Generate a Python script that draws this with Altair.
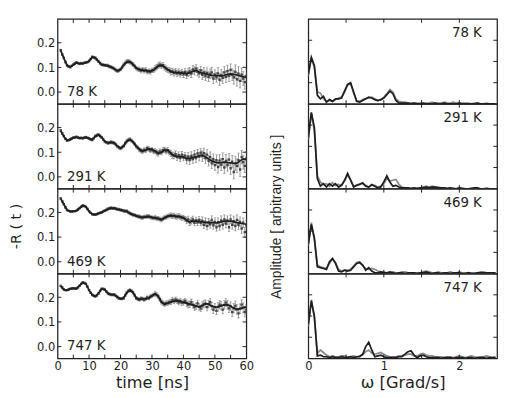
import altair as alt
import pandas as pd

TEMPS = ["78 K", "291 K", "469 K", "747 K"]

# ---- left column: -R(t), values in units of 0.001 ----
FIT_T = list(range(1, 61))
FIT_78 = [168, 137, 109, 102, 110, 119, 115, 116, 119, 125,
          141, 139, 125, 111, 109, 106, 102, 94, 86, 91,
          109, 122, 123, 112, 98, 91, 89, 88, 84, 86,
          94, 105, 109, 102, 91, 84, 80, 78, 78, 77,
          75, 78, 84, 88, 81, 77, 74, 70, 68, 67,
          67, 65, 68, 72, 74, 72, 69, 65, 62, 59]
FIT_291 = [186, 164, 148, 151, 158, 161, 158, 157, 160, 156,
           151, 164, 170, 161, 144, 138, 140, 138, 125, 116,
           125, 144, 151, 142, 125, 112, 105, 108, 114, 112,
           105, 96, 99, 109, 109, 96, 86, 83, 82, 81,
           75, 75, 79, 81, 86, 88, 82, 73, 65, 60,
           57, 58, 60, 58, 57, 55, 56, 65, 73, 70]
FIT_469 = [256, 233, 210, 204, 204, 207, 217, 227, 224, 204,
           193, 191, 196, 200, 207, 214, 217, 217, 213, 210,
           207, 204, 196, 191, 186, 182, 180, 182, 183, 180,
           178, 175, 171, 178, 184, 187, 186, 183, 183, 178,
           167, 162, 165, 165, 163, 162, 159, 159, 159, 158,
           159, 162, 165, 165, 165, 162, 159, 157, 154, 152]
FIT_747 = [244, 231, 229, 234, 236, 235, 247, 260, 254, 229,
           210, 204, 216, 234, 231, 216, 211, 211, 201, 194,
           197, 219, 229, 219, 197, 191, 194, 194, 196, 206,
           214, 204, 181, 172, 176, 181, 185, 186, 184, 179,
           176, 172, 169, 164, 161, 166, 174, 172, 164, 160,
           161, 166, 169, 169, 164, 156, 151, 154, 158, 161]

# measured points at t = 1.0, 1.5, ... 60.0 ns (rows of 5 ns)
DATA_T = [1.0 + 0.5 * i for i in range(119)]
DATA_78 = [170, 152, 138, 121, 108, 103, 101, 106, 111, 116,
           120, 117, 114, 117, 115, 118, 120, 121, 126, 134,
           142, 141, 138, 131, 124, 117, 111, 110, 108, 108,
           107, 103, 101, 98, 95, 89, 85, 88, 92, 100,
           110, 117, 123, 124, 121, 117, 111, 104, 97, 93,
           92, 87, 91, 86, 90, 83, 85, 82, 88, 89,
           96, 101, 107, 111, 106, 109, 100, 95, 90, 88,
           82, 84, 78, 83, 76, 81, 74, 80, 72, 82,
           70, 79, 84, 75, 92, 86, 95, 82, 76, 88,
           70, 80, 66, 78, 62, 74, 80, 55, 70, 60,
           76, 50, 68, 58, 80, 62, 85, 66, 90, 70,
           60, 82, 52, 75, 45, 70, 55, 40, 65]
DATA_291 = [188, 176, 165, 154, 147, 149, 152, 156, 159, 160,
            162, 159, 157, 158, 156, 159, 161, 158, 155, 152,
            150, 157, 165, 169, 171, 166, 160, 152, 143, 140,
            137, 139, 141, 139, 137, 131, 124, 119, 116, 120,
            126, 137, 145, 150, 152, 147, 141, 133, 124, 118,
            111, 106, 104, 109, 108, 116, 113, 108, 111, 104,
            104, 99, 95, 103, 100, 108, 110, 104, 108, 100,
            95, 88, 86, 92, 80, 88, 76, 90, 78, 86,
            70, 82, 68, 85, 72, 90, 76, 95, 82, 98,
            84, 96, 76, 90, 65, 80, 55, 72, 48, 68,
            40, 66, 50, 72, 38, 65, 48, 70, 35, 62,
            20, 55, 45, 68, 30, 80, 60, 45, 75]
DATA_469 = [257, 245, 233, 220, 210, 206, 204, 203, 205, 205,
            207, 212, 218, 223, 228, 226, 222, 214, 205, 198,
            193, 191, 191, 193, 196, 198, 200, 204, 207, 210,
            214, 216, 218, 216, 217, 215, 213, 212, 210, 208,
            206, 205, 205, 200, 196, 193, 190, 189, 186, 184,
            183, 180, 179, 182, 182, 184, 184, 181, 179, 177,
            179, 176, 176, 173, 170, 174, 179, 181, 185, 186,
            188, 185, 187, 183, 183, 185, 181, 178, 179, 174,
            168, 172, 160, 166, 172, 158, 168, 160, 170, 158,
            166, 150, 162, 145, 160, 152, 170, 148, 162, 140,
            160, 145, 168, 150, 172, 155, 168, 140, 172, 150,
            165, 145, 170, 150, 162, 135, 158, 120, 148]
DATA_747 = [246, 240, 232, 229, 229, 231, 234, 236, 237, 236,
            235, 240, 247, 254, 260, 258, 254, 243, 229, 218,
            210, 206, 204, 208, 216, 226, 234, 234, 231, 223,
            216, 213, 211, 210, 211, 206, 201, 196, 194, 194,
            197, 208, 219, 226, 229, 225, 219, 208, 197, 193,
            191, 195, 194, 190, 194, 199, 196, 203, 206, 210,
            214, 210, 204, 192, 181, 176, 172, 176, 176, 180,
            181, 188, 185, 190, 186, 180, 184, 178, 179, 185,
            176, 170, 172, 180, 169, 160, 164, 175, 161, 155,
            166, 172, 174, 160, 172, 180, 164, 150, 160, 145,
            161, 170, 166, 150, 169, 178, 169, 155, 164, 140,
            156, 165, 151, 135, 154, 170, 158, 140, 150]
# error half-widths per 5-ns block
ERR_78 = [4, 4, 5, 6, 8, 9, 11, 13, 16, 20, 24, 28]
ERR_291 = [4, 4, 5, 6, 7, 9, 11, 13, 17, 21, 25, 28]
ERR_469 = [3, 3, 4, 5, 6, 7, 8, 10, 13, 16, 18, 20]
ERR_747 = [3, 3, 4, 5, 6, 7, 9, 11, 13, 15, 17, 19]

# ---- right column: Fourier amplitude (fraction of panel height, x100) ----
OMEGA = [round(0.04 * i, 2) for i in range(63)]
DARK_78 = [35, 55, 45, 10, 6, 9, 2, 5, 3, 6,
           6, 7, 15, 23, 25, 14, 3, 2, 4, 6,
           8, 7, 5, 4, 5, 7, 11, 15, 12, 4,
           1, 1, 1, 1, 0, 1, 0, 0, 1, 0,
           0, 0, 1, 0, 0, 1, 0, 0, 0, 0,
           1, 0, 0, 0, 0, 0, 1, 0, 0, 0,
           0, 0, 0]
GREY_78 = [33, 54, 43, 14, 13, 6, 3, 4, 3, 5,
           7, 8, 14, 22, 24, 13, 4, 3, 5, 6,
           7, 8, 6, 4, 5, 8, 12, 17, 14, 6,
           3, 2, 2, 1, 1, 1, 1, 1, 0, 1,
           1, 2, 1, 1, 1, 2, 1, 1, 2, 1,
           1, 1, 1, 1, 0, 1, 1, 0, 0, 1,
           0, 0, 0]
DARK_291 = [60, 90, 72, 12, 3, 6, 2, 6, 3, 6,
            2, 4, 10, 18, 10, 2, 4, 5, 7, 3,
            2, 5, 3, 1, 2, 8, 15, 8, 3, 4,
            2, 1, 1, 1, 0, 1, 0, 1, 1, 2,
            1, 2, 2, 1, 1, 1, 0, 1, 0, 0,
            1, 0, 0, 0, 0, 1, 1, 0, 0, 0,
            0, 0, 0]
GREY_291 = [58, 89, 68, 15, 8, 5, 6, 3, 7, 4,
            5, 4, 9, 16, 11, 3, 4, 6, 6, 4,
            2, 4, 4, 2, 3, 6, 12, 9, 10, 11,
            5, 2, 1, 1, 1, 1, 1, 1, 2, 3,
            2, 3, 2, 2, 1, 1, 1, 1, 1, 0,
            1, 1, 0, 0, 1, 1, 0, 0, 0, 1,
            0, 0, 0]
DARK_469 = [35, 58, 42, 8, 7, 6, 5, 14, 18, 12,
            3, 2, 4, 3, 4, 8, 12, 13, 10, 4,
            7, 3, 1, 1, 2, 1, 1, 2, 1, 0,
            1, 1, 0, 1, 1, 1, 0, 1, 1, 2,
            1, 0, 1, 1, 0, 1, 1, 0, 1, 1,
            1, 0, 0, 1, 0, 0, 1, 1, 1, 1,
            1, 1, 1]
GREY_469 = [33, 60, 40, 10, 8, 7, 6, 12, 17, 13,
            5, 3, 4, 4, 5, 9, 13, 14, 9, 6,
            5, 6, 5, 3, 2, 2, 1, 1, 2, 1,
            1, 2, 2, 1, 1, 1, 1, 1, 2, 3,
            2, 1, 1, 2, 1, 1, 1, 2, 1, 1,
            2, 1, 1, 1, 1, 1, 1, 2, 2, 1,
            1, 1, 1]
DARK_747 = [40, 68, 50, 3, 4, 2, 2, 1, 2, 1,
            1, 2, 1, 1, 2, 1, 2, 2, 5, 14,
            19, 10, 2, 3, 4, 2, 1, 1, 1, 1,
            2, 2, 5, 8, 9, 4, 1, 3, 4, 2,
            1, 1, 1, 1, 0, 1, 1, 1, 0, 1,
            1, 1, 0, 1, 1, 0, 1, 1, 1, 0,
            1, 1, 1]
GREY_747 = [38, 69, 48, 6, 10, 7, 4, 2, 3, 2,
            2, 3, 3, 2, 2, 3, 2, 3, 4, 8,
            10, 6, 5, 6, 7, 5, 3, 2, 2, 2,
            3, 3, 4, 5, 5, 3, 3, 5, 6, 4,
            3, 3, 2, 2, 2, 1, 2, 2, 1, 2,
            3, 2, 1, 2, 3, 2, 1, 2, 2, 3,
            2, 1, 2]

FITS = [FIT_78, FIT_291, FIT_469, FIT_747]
DATAS = [DATA_78, DATA_291, DATA_469, DATA_747]
ERRS = [ERR_78, ERR_291, ERR_469, ERR_747]
DARKS = [DARK_78, DARK_291, DARK_469, DARK_747]
GREYS = [GREY_78, GREY_291, GREY_469, GREY_747]
for lst in DATAS:
    assert len(lst) == len(DATA_T)
for lst in DARKS + GREYS:
    assert len(lst) == len(OMEGA)

TIME_LABELS = [0, 10, 20, 30, 40, 50, 60]
TIME_TICKS = [5, 10, 15, 20, 25, 30, 35, 40, 45, 50, 55]
R_LABELS = [0.0, 0.1, 0.2]
OMEGA_LABELS = [0, 1, 2]
OMEGA_TICKS = [0.5, 1.0, 1.5, 2.0]
AMP_TICKS = [0.25, 0.5, 0.75]

FONT = "DejaVu Sans"
ARIAL = "Liberation Sans"
INK = "#1e1e1e"
W, H = 198, 89
T_DOMAIN = [0, 60]
R_DOMAIN = [-0.048, 0.296]
W_DOMAIN = [0, 2.5]
A_DOMAIN = [0, 1]


def frame_ticks(xvals, yvals, xenc, yenc, tl=4):
    """Inward ticks on all four frame sides; xenc/yenc build the shared encodings."""
    xd = pd.DataFrame({"x": xvals})
    yd = pd.DataFrame({"y": yvals})
    bx = alt.Chart(xd).mark_rule(color=INK, strokeWidth=1)
    by = alt.Chart(yd).mark_rule(color=INK, strokeWidth=1)
    X = xenc("x")
    Y = yenc("y")
    return [
        bx.encode(x=X, y=alt.value(0), y2=alt.value(tl)),
        bx.encode(x=X, y=alt.value(H), y2=alt.value(H - tl)),
        by.encode(y=Y, x=alt.value(0), x2=alt.value(tl)),
        by.encode(y=Y, x=alt.value(W), x2=alt.value(W - tl)),
    ]


def left_panel(k):
    xs = alt.Scale(domain=T_DOMAIN, nice=False, zero=False)
    ys = alt.Scale(domain=R_DOMAIN, nice=False, zero=False)
    vals = [v / 1000 for v in DATAS[k]]
    errs = [ERRS[k][i // 10] / 1000 for i in range(len(vals))]
    pts = pd.DataFrame({
        "t": DATA_T, "v": vals,
        "lo": [a - e for a, e in zip(vals, errs)],
        "hi": [a + e for a, e in zip(vals, errs)],
    })
    fit = pd.DataFrame({"t": FIT_T, "v": [v / 1000 for v in FITS[k]]})

    if k == 3:
        xax = alt.Axis(values=TIME_LABELS, format="d", ticks=False, domain=False,
                       labelFlush=False, labelPadding=3, title="time [ns]",
                       titleFontSize=17, titleFontWeight="normal", titlePadding=3)
    else:
        xax = None
    ykw = dict(values=R_LABELS, format=".1f", ticks=False, domain=False,
               labelPadding=3, titleFontWeight="normal")
    if k == 2:
        ykw.update(title="-R ( t )", titleFontSize=15, titleY=39, titleAlign="center",
                   titlePadding=14)
    else:
        ykw.update(title="")
    yax = alt.Axis(**ykw)

    def xenc(f):
        return alt.X(f"{f}:Q", scale=xs, axis=xax)

    def yenc(f):
        return alt.Y(f"{f}:Q", scale=ys, axis=yax)

    points = alt.Chart(pts).mark_square(size=6, color="#454545", opacity=1, clip=True).encode(
        x=xenc("t"), y=yenc("v"))
    bars = alt.Chart(pts).mark_rule(color="#7a7a7a", strokeWidth=0.8, clip=True).encode(
        x=xenc("t"), y=yenc("lo"), y2="hi:Q")
    cap_lo = alt.Chart(pts).mark_tick(color="#7a7a7a", orient="horizontal", size=2.5,
                                      thickness=0.8, clip=True).encode(x=xenc("t"), y=yenc("lo"))
    cap_hi = alt.Chart(pts).mark_tick(color="#7a7a7a", orient="horizontal", size=2.5,
                                      thickness=0.8, clip=True).encode(x=xenc("t"), y=yenc("hi"))
    line = alt.Chart(fit).mark_line(color=INK, strokeWidth=1.8, clip=True).encode(
        x=xenc("t"), y=yenc("v"))
    lab = alt.Chart(pd.DataFrame({"label": [TEMPS[k]], "v": [0.0]})).mark_text(
        align="left", baseline="middle", font=FONT, fontSize=14, color=INK).encode(
        x=alt.value(10), y=yenc("v"), text="label:N")
    layers = [bars, cap_lo, cap_hi, points, line, lab] + frame_ticks(TIME_TICKS, R_LABELS, xenc, yenc)
    return alt.layer(*layers).properties(width=W, height=H)


def right_panel(k):
    xs = alt.Scale(domain=W_DOMAIN, nice=False, zero=False)
    ys = alt.Scale(domain=A_DOMAIN, nice=False, zero=False)
    dark = pd.DataFrame({"w": OMEGA, "a": [v / 100 for v in DARKS[k]]})
    grey = pd.DataFrame({"w": OMEGA, "a": [v / 100 for v in GREYS[k]]})
    if k == 3:
        xax = alt.Axis(values=OMEGA_LABELS, format="d", ticks=False, domain=False,
                       labelFlush=False, labelPadding=3, title="\u03c9 [Grad/s]",
                       titleFontSize=17, titleFontWeight="normal", titlePadding=3)
    else:
        xax = None
    if k == 2:
        yax = alt.Axis(values=AMP_TICKS, labels=False, ticks=False, domain=False,
                       title="Amplitude [ arbitrary units ]", titleFont=ARIAL,
                       titleFontSize=14.5, titleFontWeight="normal", titleY=29,
                       titleAlign="center", titlePadding=26)
    else:
        yax = None

    def xenc(f):
        return alt.X(f"{f}:Q", scale=xs, axis=xax)

    def yenc(f):
        return alt.Y(f"{f}:Q", scale=ys, axis=yax)

    gl = alt.Chart(grey).mark_line(color="#8a8a8a", strokeWidth=1.8, clip=True).encode(
        x=xenc("w"), y=yenc("a"))
    dl = alt.Chart(dark).mark_line(color=INK, strokeWidth=1.8, clip=True).encode(
        x=xenc("w"), y=yenc("a"))
    lab = alt.Chart(pd.DataFrame({"label": [TEMPS[k]]})).mark_text(
        align="right", baseline="middle", font=FONT, fontSize=14, color=INK).encode(
        x=alt.value(W - 16), y=alt.value(15), text="label:N")
    layers = [gl, dl, lab] + frame_ticks(OMEGA_TICKS, AMP_TICKS, xenc, yenc)
    return alt.layer(*layers).properties(width=W, height=H)


left = alt.vconcat(*[left_panel(k) for k in range(4)], spacing=0, bounds="flush")
right = alt.vconcat(*[right_panel(k) for k in range(4)], spacing=0, bounds="flush")

chart = (
    alt.hconcat(left, right, spacing=14)
    .properties(padding=0, background="white")
    .configure_view(stroke="#222222", strokeWidth=1.3)
    .configure_axis(labelFont=FONT, titleFont=FONT, labelFontSize=12,
                    labelColor=INK, titleColor=INK, grid=False)
)

chart.save("out.html", embed_options={"renderer": "svg", "actions": False})
